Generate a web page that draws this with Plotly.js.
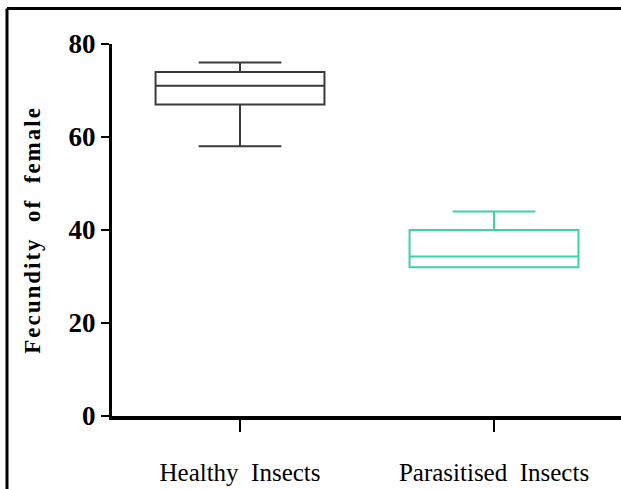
<!DOCTYPE html>
<html>
<head>
<meta charset="utf-8">
<script src="https://cdn.plot.ly/plotly-3.0.1.min.js"></script>
<style>
  html, body { margin: 0; padding: 0; background: #fff; }
  #chart { width: 621px; height: 489px; }
  .ytitle { letter-spacing: 2px; }
</style>
</head>
<body>
<div id="chart"></div>
<script>
// Data
const categories = ["Healthy  Insects", "Parasitised  Insects"];
const lowerWhisker = [58, 32];
const q1Values = [67, 32];
const medianValues = [71, 34.3];
const q3Values = [74, 40];
const upperWhisker = [76, 44];
const boxColors = ["#3a3a3a", "#3fd49e"];
const yTickValues = [0, 20, 40, 60, 80];
const yTickLabels = ["0", "20", "40", "60", "80"];

const traces = categories.map((cat, i) => ({
  type: "box",
  name: cat,
  x: [cat],
  q1: [q1Values[i]],
  median: [medianValues[i]],
  q3: [q3Values[i]],
  lowerfence: [lowerWhisker[i]],
  upperfence: [upperWhisker[i]],
  width: 0.665,
  whiskerwidth: 0.49,
  fillcolor: "rgba(0,0,0,0)",
  line: { color: boxColors[i], width: 2 },
  boxpoints: false,
  hoverinfo: "skip",
  showlegend: false
}));

const layout = {
  width: 621,
  height: 489,
  margin: { l: 112, r: 0, t: 43.5, b: 73 },
  paper_bgcolor: "#fff",
  plot_bgcolor: "#fff",
  boxmode: "overlay",
  showlegend: false,
  xaxis: {
    type: "category",
    categoryorder: "array",
    categoryarray: categories,
    range: [-0.504, 1.5],
    showgrid: false,
    zeroline: false,
    showline: true,
    linecolor: "#000",
    linewidth: 3.5,
    ticks: "outside",
    ticklen: 12,
    tickwidth: 2.5,
    tickcolor: "#000",
    ticklabelstandoff: 19,
    tickfont: { family: "Liberation Serif, Times New Roman, serif", size: 25, color: "#000" }
  },
  yaxis: {
    range: [0, 80],
    tickvals: yTickValues,
    ticktext: yTickLabels,
    showgrid: false,
    zeroline: false,
    showline: true,
    linecolor: "#000",
    linewidth: 3,
    ticks: "outside",
    ticklen: 8,
    tickwidth: 2,
    tickcolor: "#000",
    tickfont: { family: "Liberation Serif, Times New Roman, serif", size: 27, color: "#000", weight: "bold" },
    title: {
      text: "<b>Fecundity  of  female</b>",
      standoff: 22,
      font: { family: "Liberation Serif, Times New Roman, serif", size: 23, color: "#000" }
    }
  },
  shapes: [
    { type: "line", xref: "paper", yref: "paper", x0: -0.2063, x1: -0.2063, y0: -0.25, y1: 1.0953, line: { color: "#000", width: 3 } },
    { type: "line", xref: "paper", yref: "paper", x0: -0.2063, x1: 1.02, y0: 1.0953, y1: 1.0953, line: { color: "#000", width: 3 } }
  ]
};

Plotly.newPlot("chart", traces, layout, { displayModeBar: false, staticPlot: true });
</script>
</body>
</html>
